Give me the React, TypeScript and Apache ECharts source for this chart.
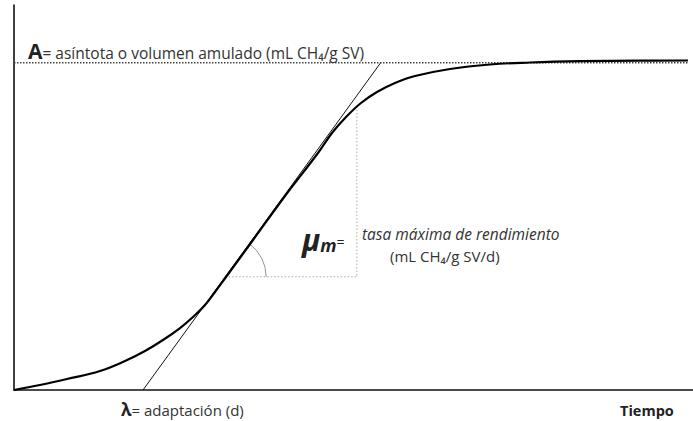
import React, { useEffect, useRef } from "react";
import * as echarts from "echarts";

// Curve (time vs. cumulative volume, arbitrary units)
const timeValues = [0, 3.83, 7.81, 12.67, 16.35, 19.29, 21.94, 24.45, 26.36, 28.13, 29.6, 31.22, 35.2, 39.91, 44.77, 46.83, 48.9, 51.1, 53.46, 56.11, 59.06, 64.21, 70.1, 75.99, 83.36, 92.19, 99.26];
const volumeValues = [0, 1.3, 2.86, 4.94, 7.53, 10.13, 12.99, 16.1, 18.96, 22.08, 25.45, 29.35, 38.96, 50.39, 61.56, 66.75, 70.91, 74.55, 77.4, 79.74, 81.56, 83.38, 84.55, 85.06, 85.4, 85.56, 85.58];

// Tangent at the inflection point (lambda = intercept with time axis)
const tangentStart = [19, 0];
const tangentEnd = [54, 85];

// Asymptote A
const asymptoteValue = 85;
const asymptoteRange = [0, 99.3];

// Slope triangle (horizontal and vertical legs)
const triangleVertex = [31.1, 29.4];
const triangleCorner = [50.5, 29.4];
const triangleTop = [50.5, 73.6];

const axisMin = 0;
const axisMax = 100;

const FONT = "'Open Sans', 'DejaVu Sans', sans-serif";

export default function App() {
  const ref = useRef<HTMLDivElement>(null);

  useEffect(() => {
    if (!ref.current) return;
    const chart = echarts.init(ref.current, null, { renderer: "svg" });

    const curveData = timeValues.map((t, i) => [t, volumeValues[i]]);

    chart.setOption({
      animation: false,
      backgroundColor: "#ffffff",
      grid: { left: 14, right: 0, top: 5, bottom: 31, containLabel: false },
      xAxis: {
        type: "value",
        min: axisMin,
        max: axisMax,
        axisLine: { show: true, onZero: false, lineStyle: { color: "#111", width: 1.6 } },
        axisTick: { show: false },
        axisLabel: { show: false },
        splitLine: { show: false },
      },
      yAxis: {
        type: "value",
        min: axisMin,
        max: axisMax,
        axisLine: { show: true, onZero: false, lineStyle: { color: "#111", width: 1.6 } },
        axisTick: { show: false },
        axisLabel: { show: false },
        splitLine: { show: false },
      },
      series: [
        {
          type: "line",
          data: [
            [asymptoteRange[0], asymptoteValue],
            [asymptoteRange[1], asymptoteValue],
          ],
          showSymbol: false,
          lineStyle: { color: "#444", width: 1.4, type: [1.5, 1.5] },
          z: 2,
        },
        {
          type: "line",
          data: [
            [triangleVertex[0], triangleVertex[1]],
            [triangleCorner[0], triangleCorner[1]],
            [triangleTop[0], triangleTop[1]],
          ],
          showSymbol: false,
          lineStyle: { color: "#aaa", width: 1, type: [1.5, 2] },
          z: 2,
        },
        {
          type: "line",
          data: [tangentStart, tangentEnd],
          showSymbol: false,
          lineStyle: { color: "#111", width: 1 },
          z: 3,
        },
        {
          type: "line",
          data: curveData,
          smooth: 0.4,
          showSymbol: false,
          lineStyle: { color: "#000", width: 2.2 },
          z: 4,
        },
        {
          type: "custom",
          data: [triangleVertex],
          z: 3,
          renderItem: (params: any, api: any) => {
            const c = api.coord([api.value(0), api.value(1)]);
            const p1 = api.coord(tangentStart);
            const p2 = api.coord(tangentEnd);
            const ang = Math.atan2(p2[1] - p1[1], p2[0] - p1[0]);
            return {
              type: "arc",
              shape: { cx: c[0], cy: c[1], r: 41, startAngle: ang, endAngle: 0, clockwise: true },
              style: { stroke: "#777", fill: null, lineWidth: 0.8 },
            };
          },
        },
      ],
      graphic: [
        {
          type: "text",
          x: 28,
          y: 51,
          style: {
            text: "{a|A}{t|= asíntota o volumen amulado (mL CH₄/g SV)}",
            verticalAlign: "middle",
            rich: {
              a: { fontFamily: FONT, fontSize: 21, fontWeight: "bold", fill: "#222", verticalAlign: "bottom" },
              t: { fontFamily: FONT, fontSize: 15.5, fill: "#333", verticalAlign: "bottom", padding: [0, 0, 1, 0] },
            },
          },
        },
        {
          type: "text",
          x: 302,
          y: 239,
          style: {
            text: "{mu|μ}{m|m}{eq|=}",
            verticalAlign: "middle",
            rich: {
              mu: { fontFamily: FONT, fontSize: 30, fontWeight: "bold", fontStyle: "italic", fill: "#222", verticalAlign: "bottom" },
              m: { fontFamily: FONT, fontSize: 18, fontWeight: "bold", fontStyle: "italic", fill: "#222", verticalAlign: "bottom" },
              eq: { fontFamily: FONT, fontSize: 14, fill: "#222", verticalAlign: "bottom", padding: [0, 0, 6, 0] },
            },
          },
        },
        {
          type: "text",
          x: 362,
          y: 234,
          style: {
            text: "tasa máxima de rendimiento",
            fontFamily: FONT,
            fontSize: 15.5,
            lineHeight: 17,
            fontStyle: "italic",
            fill: "#333",
            verticalAlign: "middle",
          },
        },
        {
          type: "text",
          x: 390,
          y: 256,
          style: {
            text: "(mL CH₄/g SV/d)",
            fontFamily: FONT,
            fontSize: 15,
            lineHeight: 17,
            fill: "#333",
            verticalAlign: "middle",
          },
        },
        {
          type: "text",
          x: 121,
          y: 409,
          style: {
            text: "{l|λ}{t|= adaptación (d)}",
            verticalAlign: "middle",
            rich: {
              l: { fontFamily: FONT, fontSize: 17, fontWeight: "bold", fill: "#222", verticalAlign: "bottom" },
              t: { fontFamily: FONT, fontSize: 15, fill: "#333", verticalAlign: "bottom" },
            },
          },
        },
        {
          type: "text",
          x: 620,
          y: 410,
          style: {
            text: "Tiempo",
            fontFamily: FONT,
            fontSize: 14.5,
            fontWeight: "bold",
            fill: "#222",
            verticalAlign: "middle",
          },
        },
      ],
    });

    return () => chart.dispose();
  }, []);

  return (
    <div
      ref={ref}
      style={{ position: "fixed", left: 0, top: 0, width: 693, height: 421, background: "#fff" }}
    />
  );
}
